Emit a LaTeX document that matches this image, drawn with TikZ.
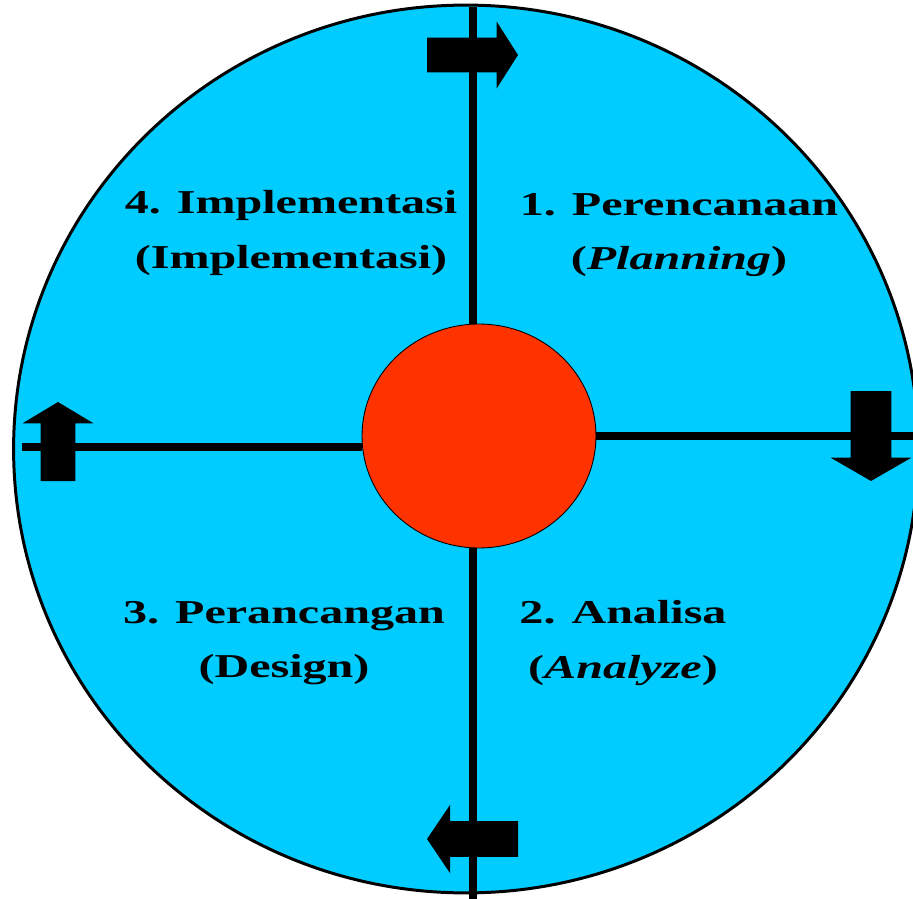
\documentclass[tikz,border=0pt]{standalone}
\usepackage{fontspec}
\setmainfont[FakeStretch=1.44]{Liberation Serif}
\usetikzlibrary{shapes.geometric, shapes.arrows}
\definecolor{cycleblue}{HTML}{00CCFF}
\definecolor{corered}{HTML}{FF3300}

\begin{document}
\begin{tikzpicture}[x=0.02cm, y=-0.02cm]

% Define styles
\tikzstyle{cycle} = [ellipse, draw=black, line width=1.7pt, fill=cycleblue, minimum width=18.1cm, minimum height=17.76cm, inner sep=0pt]
\tikzstyle{core} = [ellipse, draw=black, line width=0.5pt, fill=corered, minimum width=4.68cm, minimum height=4.48cm, inner sep=0pt]
\tikzstyle{spoke} = [line width=4.2pt, black]
\tikzstyle{phase} = [align=center, inner sep=0pt, font=\fontsize{19}{31}\selectfont\bfseries]
\tikzstyle{blockarrow} = [single arrow, fill=black, anchor=tail, outer sep=0pt]

\useasboundingbox (0,0) rectangle (913,899);
\clip (0,0) rectangle (913,899);

% Circles
\node (cycle) [cycle] at (466,449) {};
\node (core) [core] at (479,436) {};

% Spoke ends
\coordinate (top) at (473,7);
\coordinate (bottom) at (473,899);
\coordinate (left) at (22,447);
\coordinate (right) at (913,436);

% Spokes
\draw [spoke] (top) -- (top |- core.north);
\draw [spoke] (bottom) -- (bottom |- core.south);
\draw [spoke] (left) -- (left -| core.west);
\draw [spoke] (right) -- (right -| core.east);

% Block arrows
\node (toparrow) [blockarrow, minimum height=1.82cm, inner sep=0.34cm, single arrow head extend=0.32cm, single arrow tip angle=115] at (427,55) {};
\node (rightarrow) [blockarrow, shape border rotate=270, minimum height=1.8cm, inner sep=0.4cm, single arrow head extend=0.4cm, single arrow tip angle=120] at (871,391) {};
\node (bottomarrow) [blockarrow, shape border rotate=180, minimum height=1.82cm, inner sep=0.35cm, single arrow head extend=0.33cm, single arrow tip angle=112] at (518,839) {};
\node (leftarrow) [blockarrow, shape border rotate=90, minimum height=1.58cm, inner sep=0.34cm, single arrow head extend=0.36cm, single arrow tip angle=118] at (58,481) {};

% Phases
\node (planning) [phase] at (679,235) {1. Perencanaan\\(\textit{Planning})};
\node (analyze) [phase] at (623,643) {2. Analisa\\(\textit{Analyze})};
\node (design) [phase] at (284,643) {3. Perancangan\\(Design)};
\node (implement) [phase] at (291,233) {4. Implementasi\\(Implementasi)};

\end{tikzpicture}
\end{document}
